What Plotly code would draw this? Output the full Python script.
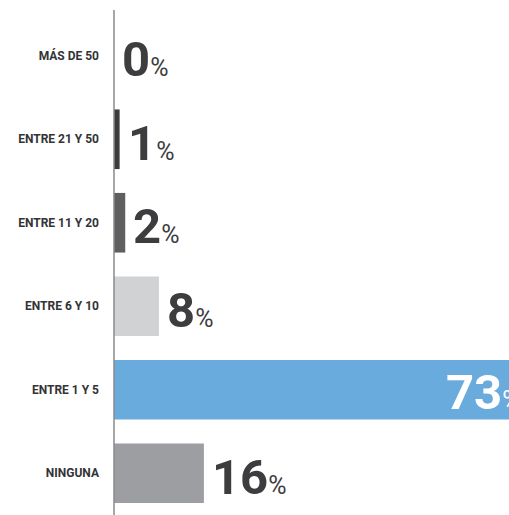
import plotly.graph_objects as go

categories = ["MÁS DE 50", "ENTRE 21 Y 50", "ENTRE 11 Y 20", "ENTRE 6 Y 10", "ENTRE 1 Y 5", "NINGUNA"]
values = [0, 1, 2, 8, 73, 16]
colors = ["#3c3c3c", "#3c3c3c", "#5f5f5f", "#d1d2d4", "#6aabdd", "#9d9ea1"]

FONT = "Roboto, DejaVu Sans, sans-serif"
XMAX = 70.3

fig = go.Figure(go.Bar(
    y=categories, x=values, orientation="h",
    marker=dict(color=colors, line=dict(width=0)),
    hoverinfo="skip", cliponaxis=False,
))

annotations = []
for cat, v in zip(categories, values):
    if v > 60:
        annotations.append(dict(
            x=v / XMAX, y=cat, xref="paper", yref="y", xanchor="right", yanchor="middle",
            xshift=-1, yshift=-3, showarrow=False,
            text=f"<b>{v}</b><span style='font-size:25px'>%</span>",
            font=dict(family=FONT, size=49, color="white"),
        ))
    else:
        annotations.append(dict(
            x=v, y=cat, xref="x", yref="y", xanchor="left", yanchor="middle",
            xshift=6, yshift=-4, showarrow=False,
            text=f"<b>{v}</b><span style='font-size:25px'>%</span>",
            font=dict(family=FONT, size=49, color="#3d3d3f"),
        ))

fig.update_layout(
    width=509, height=515,
    margin=dict(l=114, r=0, t=14, b=0, autoexpand=False),
    paper_bgcolor="white", plot_bgcolor="white",
    bargap=0.286,
    showlegend=False,
    annotations=annotations,
    shapes=[dict(type="line", xref="paper", yref="paper", x0=0, x1=0, y0=-0.01, y1=1.008,
                 line=dict(color="#8a8a8a", width=1.5), layer="above")],
    xaxis=dict(range=[0, XMAX], visible=False, fixedrange=True, automargin=False),
    yaxis=dict(
        categoryorder="array", categoryarray=categories[::-1],
        autorange=False, range=[-0.5, 5.5],
        showline=False, showgrid=False, zeroline=False, ticks="",
        ticklabelstandoff=14, automargin=False,
        tickfont=dict(family=FONT, size=12, color="#333335", weight="bold"),
        fixedrange=True,
    ),
)

fig.write_html("out.html", config={"displayModeBar": False},
               post_script="document.body.style.margin='0';document.body.style.overflow='hidden';")
